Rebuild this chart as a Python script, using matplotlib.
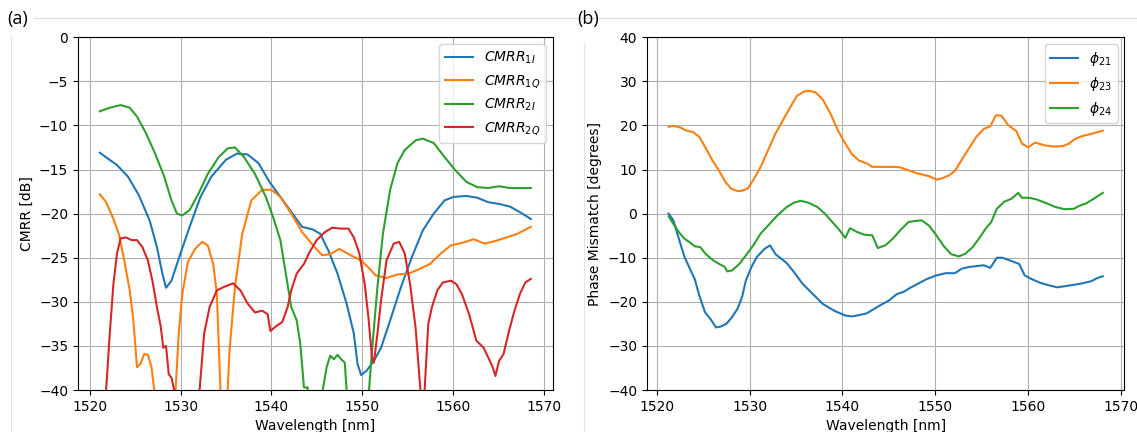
import numpy as np
import matplotlib
matplotlib.use("Agg")
import matplotlib.pyplot as plt
from matplotlib.lines import Line2D

# ---- panel (a): CMRR vs wavelength ----
wl_1i = [1521.1, 1523.0, 1524.2, 1525.4, 1526.6, 1527.4, 1528.0, 1528.4, 1529.0, 1530.0,
         1531.0, 1532.2, 1533.4, 1535.0, 1536.2, 1537.4, 1538.6, 1539.8, 1541.0, 1542.2,
         1543.4, 1544.6, 1545.4, 1546.3, 1547.3, 1548.3, 1549.1, 1549.5, 1549.9, 1550.5,
         1551.3, 1552.1, 1553.1, 1554.3, 1555.5, 1556.7, 1557.9, 1559.1, 1560.1, 1561.5,
         1562.7, 1563.9, 1565.1, 1566.3, 1567.5, 1568.6]
cmrr_1i = [-13.1, -14.5, -15.8, -17.9, -20.8, -23.8, -26.8, -28.4, -27.6, -24.5,
           -21.5, -18.1, -15.8, -13.9, -13.2, -13.3, -14.3, -16.4, -18.1, -19.8,
           -21.5, -21.8, -22.3, -24.2, -26.8, -30.2, -33.6, -37.0, -38.3, -37.8,
           -36.7, -35.2, -32.1, -28.3, -24.9, -21.9, -20.0, -18.5, -18.1, -18.0,
           -18.2, -18.7, -18.9, -19.2, -19.9, -20.6]

wl_1q = [1521.1, 1521.8, 1522.6, 1523.2, 1523.8, 1524.4, 1524.8, 1525.2, 1525.6, 1526.0,
         1526.4, 1526.8, 1527.1, 1527.5, 1529.0, 1529.4, 1529.8, 1530.2, 1530.8, 1531.6,
         1532.4, 1533.0, 1533.6, 1534.0, 1534.4, 1534.7, 1535.1, 1535.4, 1536.0, 1536.8,
         1537.8, 1539.0, 1540.0, 1541.0, 1542.2, 1543.4, 1544.6, 1545.6, 1546.5, 1547.5,
         1548.7, 1549.9, 1550.7, 1551.5, 1552.7, 1553.9, 1555.1, 1556.3, 1557.5, 1558.7,
         1559.8, 1561.1, 1562.3, 1563.5, 1564.7, 1565.9, 1567.1, 1568.6]
cmrr_1q = [-17.8, -18.7, -20.6, -22.3, -25.3, -28.7, -32.1, -37.4, -37.0, -35.9,
           -36.0, -37.4, -40.0, -46.0, -48.0, -41.0, -33.6, -29.1, -25.5, -24.0,
           -23.2, -23.6, -25.7, -29.1, -40.0, -50.0, -42.0, -35.5, -28.3, -22.3,
           -18.5, -17.3, -17.3, -18.1, -20.0, -22.1, -23.6, -24.7, -24.6, -24.0,
           -24.7, -25.3, -26.1, -27.0, -27.3, -26.9, -26.8, -26.3, -25.7, -24.5,
           -23.6, -23.3, -22.9, -23.4, -23.1, -22.7, -22.3, -21.5]

wl_2i = [1521.1, 1522.2, 1523.4, 1524.4, 1525.2, 1526.2, 1527.2, 1528.2, 1529.0, 1529.6,
         1530.2, 1531.0, 1532.0, 1533.0, 1534.2, 1535.2, 1536.0, 1537.0, 1538.2, 1539.4,
         1540.2, 1541.0, 1541.6, 1542.2, 1542.8, 1543.2, 1543.6, 1544.0, 1544.3, 1545.0,
         1545.5, 1546.1, 1546.5, 1546.9, 1547.3, 1547.7, 1548.1, 1548.3, 1549.5, 1550.7,
         1551.1, 1551.7, 1552.3, 1553.1, 1553.9, 1554.7, 1555.9, 1556.7, 1557.9, 1559.1,
         1560.3, 1561.5, 1562.7, 1563.9, 1565.1, 1566.3, 1567.5, 1568.6]
cmrr_2i = [-8.4, -8.0, -7.7, -8.0, -9.0, -10.9, -13.2, -15.8, -18.5, -20.0,
           -20.2, -19.6, -17.7, -15.5, -13.6, -12.6, -12.5, -13.6, -15.5, -18.1,
           -20.4, -23.0, -26.8, -30.6, -32.1, -34.8, -39.7, -39.7, -45.0, -48.0,
           -41.0, -37.4, -36.1, -36.5, -36.0, -36.5, -36.9, -40.0, -50.0, -41.0,
           -35.5, -28.3, -22.3, -17.3, -14.3, -12.8, -11.7, -11.5, -12.0, -13.6,
           -15.1, -16.4, -17.0, -17.1, -16.9, -17.1, -17.1, -17.1]

wl_2q = [1521.1, 1521.8, 1522.2, 1522.6, 1523.0, 1523.4, 1524.0, 1524.6, 1525.2, 1525.8,
         1526.4, 1526.9, 1527.4, 1527.8, 1528.1, 1528.4, 1528.7, 1529.0, 1529.3, 1530.5,
         1532.1, 1532.6, 1533.2, 1534.0, 1534.8, 1535.8, 1536.6, 1537.4, 1538.2, 1539.0,
         1539.6, 1539.9, 1540.6, 1541.2, 1541.8, 1542.2, 1542.8, 1543.6, 1544.2, 1545.0,
         1545.9, 1546.7, 1547.7, 1548.5, 1549.1, 1549.7, 1550.3, 1550.7, 1551.1, 1551.3,
         1551.7, 1552.1, 1552.7, 1553.5, 1554.1, 1554.7, 1555.3, 1555.9, 1556.3, 1556.6,
         1556.9, 1557.3, 1557.7, 1558.3, 1558.9, 1559.8, 1560.4, 1561.0, 1561.8, 1562.6,
         1563.4, 1564.0, 1564.4, 1564.7, 1565.1, 1565.6, 1566.2, 1566.8, 1567.4, 1568.0,
         1568.6]
cmrr_2q = [-55.0, -40.0, -33.6, -28.0, -24.5, -22.8, -22.7, -23.0, -23.0, -23.8,
           -25.3, -27.6, -30.6, -32.7, -35.2, -35.0, -38.2, -38.6, -40.0, -50.0,
           -40.0, -33.6, -30.6, -28.7, -28.3, -27.9, -28.7, -30.2, -31.2, -31.0,
           -31.4, -33.3, -32.7, -32.3, -30.6, -28.7, -26.8, -25.7, -24.4, -23.0,
           -22.1, -21.6, -21.7, -21.7, -22.7, -24.5, -28.0, -31.7, -36.3, -36.9,
           -33.6, -29.8, -25.3, -23.4, -23.2, -24.5, -28.0, -32.9, -38.2, -42.0,
           -40.0, -32.5, -30.6, -28.7, -27.8, -27.6, -28.0, -29.1, -31.4, -34.4,
           -35.2, -36.5, -37.4, -38.4, -36.7, -35.9, -33.3, -31.0, -29.1, -27.8,
           -27.4]

# ---- panel (b): phase mismatch ----
wl_21 = [1521.3, 1521.8, 1522.4, 1523.0, 1523.5, 1524.1, 1524.6, 1525.2, 1525.8, 1526.4,
         1526.9, 1527.5, 1528.1, 1528.7, 1529.2, 1529.6, 1530.2, 1530.8, 1531.6, 1532.2,
         1532.8, 1533.4, 1534.0, 1534.8, 1535.7, 1536.7, 1537.9, 1539.1, 1540.3, 1541.0,
         1541.8, 1542.6, 1543.4, 1544.2, 1545.0, 1545.8, 1546.6, 1547.3, 1548.1, 1549.1,
         1550.1, 1551.1, 1552.1, 1552.8, 1553.6, 1554.4, 1555.2, 1555.9, 1556.6, 1557.2,
         1558.0, 1559.0, 1559.6, 1560.3, 1561.3, 1562.3, 1563.1, 1564.1, 1565.0, 1565.8,
         1566.8, 1567.4, 1568.0]
phi_21 = [0.0, -1.5, -5.7, -9.8, -12.1, -14.8, -18.6, -22.3, -23.9, -25.8,
          -25.6, -25.0, -23.5, -21.6, -18.9, -15.2, -12.1, -9.8, -8.0, -7.2,
          -9.2, -10.2, -11.2, -13.3, -15.9, -18.0, -20.5, -22.0, -23.1, -23.3,
          -23.0, -22.6, -21.6, -20.6, -19.7, -18.3, -17.7, -16.8, -15.9, -14.8,
          -14.0, -13.5, -13.5, -12.5, -12.1, -11.9, -11.7, -12.3, -10.0, -10.0,
          -10.6, -11.4, -14.0, -14.8, -15.7, -16.3, -16.7, -16.4, -16.1, -15.8,
          -15.3, -14.6, -14.2]

wl_23 = [1521.3, 1521.8, 1522.6, 1523.1, 1523.9, 1524.6, 1525.3, 1526.0, 1526.7, 1527.4,
         1528.0, 1528.7, 1529.2, 1529.8, 1530.4, 1531.2, 1532.0, 1532.8, 1533.6, 1534.4,
         1535.1, 1535.9, 1536.5, 1537.1, 1537.9, 1538.7, 1539.5, 1540.3, 1541.0, 1541.8,
         1542.6, 1543.2, 1544.2, 1545.4, 1546.2, 1547.1, 1548.1, 1549.3, 1550.1, 1550.7,
         1551.5, 1552.1, 1552.8, 1553.6, 1554.4, 1555.2, 1555.9, 1556.5, 1557.1, 1557.8,
         1558.7, 1559.3, 1560.0, 1560.7, 1561.7, 1562.7, 1563.7, 1564.3, 1565.0, 1565.8,
         1567.0, 1568.0]
phi_23 = [19.7, 19.9, 19.5, 18.9, 18.5, 17.4, 14.8, 12.1, 9.8, 7.2,
          5.7, 5.1, 5.2, 5.7, 7.6, 10.6, 14.4, 18.2, 21.2, 24.2,
          26.7, 27.7, 27.8, 27.5, 25.8, 22.7, 18.9, 15.9, 13.5, 12.0,
          11.4, 10.6, 10.6, 10.6, 10.5, 9.8, 9.1, 8.5, 7.7, 8.0,
          8.7, 9.7, 12.1, 14.8, 17.4, 19.2, 19.8, 22.3, 22.2, 20.1,
          18.7, 15.9, 15.0, 16.1, 15.5, 15.2, 15.3, 15.8, 16.9, 17.6,
          18.2, 18.8]

wl_24 = [1521.3, 1521.8, 1522.4, 1523.0, 1523.5, 1524.1, 1524.7, 1525.3, 1526.1, 1526.9,
         1527.3, 1527.6, 1528.1, 1528.9, 1529.6, 1530.4, 1531.2, 1532.0, 1533.0, 1534.0,
         1534.8, 1535.5, 1536.3, 1537.3, 1538.1, 1538.9, 1539.7, 1540.3, 1540.8, 1541.6,
         1542.4, 1543.2, 1543.8, 1544.6, 1545.4, 1546.2, 1547.1, 1547.7, 1548.5, 1549.3,
         1550.1, 1550.9, 1551.7, 1552.5, 1553.2, 1554.0, 1554.8, 1555.4, 1556.0, 1556.6,
         1557.4, 1558.2, 1558.9, 1559.3, 1560.1, 1560.9, 1561.9, 1562.9, 1563.9, 1564.9,
         1565.4, 1566.2, 1567.2, 1568.0]
phi_24 = [-0.6, -2.3, -4.2, -5.7, -6.4, -7.4, -7.6, -9.2, -10.6, -11.6,
          -12.0, -13.1, -12.9, -11.4, -9.5, -7.2, -4.5, -2.7, -0.4, 1.5,
          2.5, 2.9, 2.5, 1.5, 0.0, -1.9, -3.8, -5.5, -3.3, -4.2,
          -4.8, -4.9, -7.8, -7.2, -5.7, -3.8, -1.9, -1.7, -1.5, -2.7,
          -4.9, -7.4, -9.2, -9.7, -9.1, -7.6, -5.3, -3.4, -1.9, 1.1,
          2.7, 3.4, 4.7, 3.6, 3.6, 3.2, 2.4, 1.5, 1.0, 1.1,
          1.7, 2.3, 3.6, 4.7]

fig = plt.figure(figsize=(11.37, 4.32), dpi=100)
ax1 = fig.add_axes([0.0686, 0.097, 0.4174, 0.817])
ax2 = fig.add_axes([0.569, 0.097, 0.420, 0.817])

ax1.plot(wl_1i, cmrr_1i, label=r"$CMRR_{1I}$")
ax1.plot(wl_1q, cmrr_1q, label=r"$CMRR_{1Q}$")
ax1.plot(wl_2i, cmrr_2i, label=r"$CMRR_{2I}$")
ax1.plot(wl_2q, cmrr_2q, label=r"$CMRR_{2Q}$")
ax1.set_ylim(-40, 0)
ax1.set_xlim(1518.7, 1571.0)
ax1.set_xlabel("Wavelength [nm]")
ax1.set_ylabel("CMRR [dB]")
ax1.grid(True)
ax1.legend(loc="upper right")

ax2.plot(wl_21, phi_21, label=r"$\phi_{21}$")
ax2.plot(wl_23, phi_23, label=r"$\phi_{23}$")
ax2.plot(wl_24, phi_24, label=r"$\phi_{24}$")
ax2.set_ylim(-40, 40)
ax2.set_xlabel("Wavelength [nm]")
ax2.set_ylabel("Phase Mismatch [degrees]")
ax2.grid(True)
ax2.legend(loc="upper right")

# panel tags and the faint page borders of the screenshot
fig.text(0.006, 0.955, "(a)", fontsize=13, va="center", family="Open Sans")
fig.text(0.508, 0.955, "(b)", fontsize=13, va="center", family="Open Sans")
fig.add_artist(Line2D([0.03, 1.0], [0.958, 0.958], color="#dcdcdc", lw=0.8))
fig.add_artist(Line2D([0.0097, 0.0097], [0.0, 0.92], color="#e4e4e4", lw=0.8))
fig.add_artist(Line2D([0.5136, 0.5136], [0.0, 0.9], color="#e4e4e4", lw=0.8))

fig.savefig("out.png", dpi=100)
